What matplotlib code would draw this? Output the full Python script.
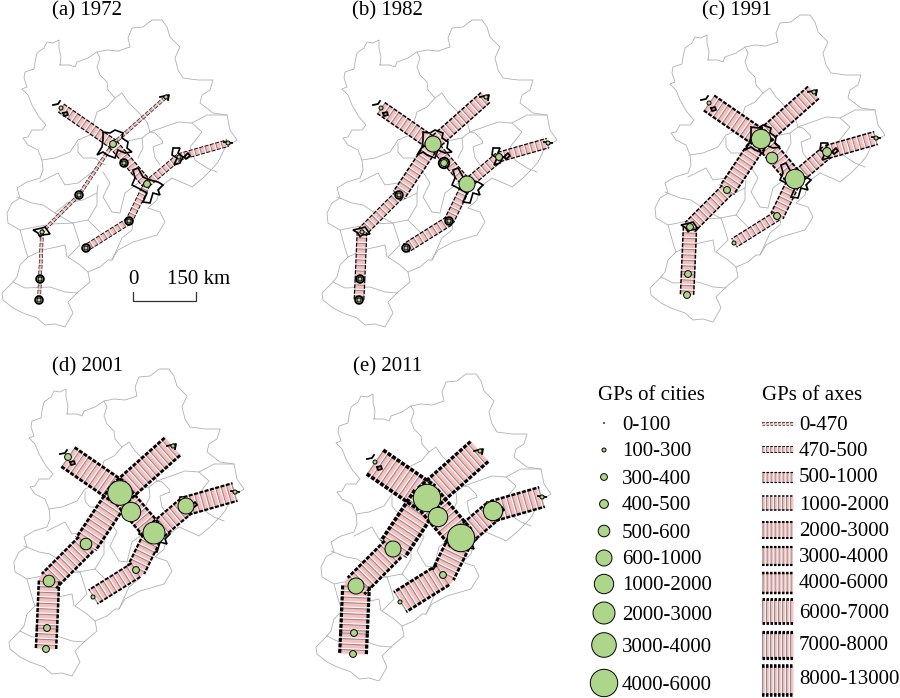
import numpy as np
import matplotlib.pyplot as plt
from matplotlib.patches import Circle, Polygon

plt.rcParams['font.family'] = ['Liberation Serif', 'DejaVu Serif']
plt.rcParams['lines.scale_dashes'] = False

# map outlines, in pixels of panel (a)
outer = np.array([(60, 65), (70, 65), (75, 67), (77, 62), (88, 58), (97, 52), (107, 50), (118, 51), (130, 47),
                  (128, 38), (132, 28), (143, 27), (152, 20), (162, 20), (167, 27), (170, 37), (180, 47), (175, 58),
                  (178, 70), (183, 78), (198, 80), (213, 80), (210, 90), (202, 95), (200, 103), (213, 113),
                  (227, 115), (230, 130), (237, 140), (225, 148), (218, 162), (213, 168), (203, 178), (192, 187),
                  (188, 185), (172, 178), (160, 187), (157, 200), (148, 208), (160, 212), (165, 222), (157, 235),
                  (133, 242), (118, 250), (112, 260), (108, 260), (100, 267), (88, 272), (90, 282), (78, 292),
                  (68, 302), (73, 313), (65, 327), (55, 324), (45, 325), (37, 318), (23, 313), (13, 308), (3, 300),
                  (2, 293), (12, 283), (17, 277), (20, 265), (28, 257), (25, 248), (20, 230), (8, 223), (7, 213),
                  (12, 203), (20, 198), (17, 188), (27, 182), (40, 178), (43, 170), (42, 160), (38, 150), (28, 145),
                  (23, 138), (28, 137), (32, 130), (42, 130), (46, 125), (39, 117), (32, 105), (28, 95), (22, 89),
                  (27, 87), (24, 78), (25, 72), (34, 69), (35, 62), (37, 53), (44, 48), (47, 42), (53, 43), (59, 40),
                  (59, 48), (61, 57), (60, 65)])
inner = [
    [(97, 52), (100, 58), (97, 67), (100, 75), (107, 82), (108, 90), (115, 98), (122, 93), (128, 102), (138, 112),
     (147, 122), (150, 132), (155, 133), (162, 140), (163, 143), (153, 147), (155, 158), (160, 165)],
    [(150, 132), (178, 122), (192, 123), (207, 115), (227, 115)],
    [(192, 123), (202, 132), (190, 147), (195, 160), (207, 168), (217, 172)],
    [(127, 141), (142, 138), (143, 148), (138, 158)],
    [(142, 138), (150, 132)],
    [(42, 160), (55, 158), (70, 152), (78, 140), (90, 135), (97, 112), (107, 107), (115, 98)],
    [(78, 143), (78, 152), (83, 158), (95, 158), (100, 162), (105, 165)],
    [(17, 197), (32, 203), (43, 205), (55, 213), (67, 203), (83, 200), (97, 193), (98, 185)],
    [(40, 182), (58, 173), (65, 185), (78, 183), (95, 170)],
    [(55, 213), (72, 223), (88, 220), (100, 232)],
    [(73, 223), (77, 235), (80, 245), (68, 257), (80, 265), (88, 272)],
    [(20, 230), (35, 227), (52, 224), (73, 223)],
    [(28, 257), (43, 250), (65, 245), (67, 257)],
    [(13, 282), (25, 288), (50, 287), (65, 292), (78, 293)],
    [(103, 172), (110, 183), (103, 197), (112, 212), (120, 213), (125, 193), (133, 187), (138, 183)],
    [(112, 260), (122, 238), (132, 230), (133, 222)],
    [(88, 220), (97, 205), (97, 193)],
]

# cities
city_names = ['Beijing', 'Tianjin', 'Langfang', 'Zhangjiakou', 'Chengde', 'Baoding', 'Shijiazhuang',
              'Xingtai', 'Handan', 'Tangshan', 'Qinhuangdao', 'Cangzhou', 'Hengshui']
city_x = [113, 147, 124, 61, 166, 79, 42, 40, 39, 179, 228, 129, 86]
city_y = [144, 184, 163, 108, 97, 195, 232, 279, 300, 157, 143, 221, 248]

# axes between cities, as index pairs into city_names
axis_from = [3, 0, 0, 5, 6, 7, 0, 1, 9, 1, 11]
axis_to = [0, 4, 5, 6, 7, 8, 1, 9, 10, 11, 12]

# urban outlines drawn around the cities
urban_outlines = [
    [(103, 132), (110, 133), (115, 130), (123, 133), (122, 138), (128, 142), (127, 148), (132, 152), (125, 153),
     (118, 150), (115, 158), (107, 155), (103, 152), (97, 155), (102, 147), (103, 140)],
    [(133, 170), (138, 168), (143, 177), (150, 180), (158, 182), (163, 185), (158, 190), (160, 195), (153, 193),
     (150, 203), (143, 202), (147, 193), (138, 188), (132, 185), (135, 178)],
    [(33, 230), (42, 228), (45, 227), (50, 234), (42, 235), (40, 237), (38, 233)],
    [(173, 148), (180, 148), (178, 153), (183, 157), (180, 163), (174, 165), (177, 158), (172, 155)],
]
small_marks = [
    [(53, 105), (58, 104), (60, 101)],
    [(63, 113), (67, 112), (68, 115), (64, 116), (63, 113)],
    [(160, 97), (169, 95), (168, 100)],
    [(224, 142), (232, 143)],
    [(184, 157), (188, 153), (190, 156), (186, 159), (184, 157)],
]
ring_cities = [2, 5, 7, 8, 11, 12]

years = ['(a) 1972', '(b) 1982', '(c) 1991', '(d) 2001', '(e) 2011']

# class index of every city (order of city_names) and axis in each year
city_class = [
    [2, 2, 1, 1, 1, 1, 1, 1, 1, 1, 1, 1, 1],
    [5, 5, 2, 1, 1, 1, 1, 1, 1, 2, 1, 1, 1],
    [6, 6, 4, 1, 1, 2, 2, 2, 2, 3, 1, 2, 1],
    [8, 7, 6, 2, 1, 4, 4, 2, 2, 5, 1, 2, 1],
    [9, 9, 6, 1, 1, 5, 5, 2, 2, 6, 1, 2, 1],
]
axis_class = [
    [2, 0, 0, 0, 0, 0, 2, 1, 1, 1, 1],
    [3, 3, 3, 2, 2, 2, 2, 2, 2, 2, 2],
    [5, 4, 4, 3, 3, 3, 4, 3, 3, 3, 2],
    [7, 7, 7, 6, 6, 6, 6, 5, 5, 5, 4],
    [9, 8, 9, 7, 8, 8, 8, 6, 6, 7, 7],
]

city_labels = ['0-100', '100-300', '300-400', '400-500', '500-600', '600-1000', '1000-2000', '2000-3000',
               '3000-4000', '4000-6000']
axis_labels = ['0-470', '470-500', '500-1000', '1000-2000', '2000-3000', '3000-4000', '4000-6000', '6000-7000',
               '7000-8000', '8000-13000']

# drawing scales for the classes, pixels
city_radius = [0.4, 2, 3.4, 4.4, 5.8, 8, 9.7, 11, 12.3, 13.7]
axis_width = [3, 6.7, 9.7, 13.3, 16.3, 18.3, 20.3, 23.3, 26.7, 29]
edge_width = [0.6, 0.9, 1.2, 1.5, 1.9, 2.2, 2.5, 2.8, 3.2, 3.6]
panel_dx = [0, 320, 648, 7, 314]
panel_dy = [0, 0, -5, 349, 354]
title_x = [52, 352, 702, 52, 353]
title_y = [11, 11, 11, 367, 367]

GREEN = '#AED68B'
PINK = '#F9BFBF'
GREY = '#b0b0b0'
PX = 0.72

fig = plt.figure(figsize=(9, 6.98), dpi=100)
ax = fig.add_axes([0, 0, 1, 1])
ax.set_xlim(0, 900)
ax.set_ylim(698, 0)
ax.axis('off')


def draw_axis(x0, y0, x1, y1, cls, spacing=5.5, z=3):
    w = axis_width[cls]
    ax.plot([x0, x1], [y0, y1], color=PINK, lw=w * PX, solid_capstyle='butt', zorder=z)
    ax.plot([x0, x1], [y0, y1], color='#8e8e8e', lw=(w - 1) * PX, zorder=z,
            linestyle=(0, (1.1 * PX, (spacing - 1.1) * PX)), dash_capstyle='butt')
    ax.plot([x0, x1], [y0, y1], color='white', lw=(w - 1) * PX, zorder=z,
            linestyle=(1.1 * PX, (0.9 * PX, (spacing - 0.9) * PX)), dash_capstyle='butt')
    # dashed edges on both sides
    d = np.array([x1 - x0, y1 - y0], dtype=float)
    n = np.array([-d[1], d[0]]) / np.hypot(d[0], d[1]) * w / 2
    for s in (-1, 1):
        ax.plot([x0 + s * n[0], x1 + s * n[0]], [y0 + s * n[1], y1 + s * n[1]], color='black',
                lw=edge_width[cls] * PX, zorder=z + 0.1,
                linestyle=(0, ((spacing - 1.5) * PX, 1.5 * PX)), dash_capstyle='butt')


for i in range(5):
    dx = panel_dx[i]
    dy = panel_dy[i]
    ax.plot(outer[:, 0] + dx, outer[:, 1] + dy, color=GREY, lw=0.6, zorder=1)
    for line in inner:
        pts = np.array(line)
        ax.plot(pts[:, 0] + dx, pts[:, 1] + dy, color=GREY, lw=0.6, zorder=1)

    # urban outlines sit on top in the early years, the wide axes hide them later
    urban_z = 5 if i < 3 else 2
    for outline in urban_outlines:
        pts = np.array(outline) + [dx, dy]
        ax.add_patch(Polygon(pts, closed=True, fill=False, ec='black', lw=1.2, zorder=urban_z))
    for mark in small_marks:
        pts = np.array(mark) + [dx, dy]
        ax.plot(pts[:, 0], pts[:, 1], color='black', lw=1.3, zorder=5)

    for a, b, cls in zip(axis_from, axis_to, axis_class[i]):
        draw_axis(city_x[a] + dx, city_y[a] + dy, city_x[b] + dx, city_y[b] + dy, cls)
    # fill the wedge where two axes meet at a bend
    for c, cls in zip([5, 6, 9, 11], [axis_class[i][3], axis_class[i][3], axis_class[i][8], axis_class[i][10]]):
        ax.add_patch(Circle((city_x[c] + dx, city_y[c] + dy), axis_width[cls] / 2, fc=PINK, ec='none', zorder=2.5))

    if i < 2:
        for c in ring_cities:
            r = city_radius[city_class[i][c]] + 1.8
            ax.add_patch(Circle((city_x[c] + dx, city_y[c] + dy), r, fc='none', ec='black', lw=1.4, zorder=5))
    for c, cls in enumerate(city_class[i]):
        ax.add_patch(Circle((city_x[c] + dx, city_y[c] + dy), city_radius[cls], fc=GREEN, ec='black',
                            lw=0.7, zorder=6))

    ax.text(title_x[i], title_y[i], years[i], fontsize=15, ha='left', va='center')

# scale bar in panel (a)
ax.plot([133, 133, 196, 196], [292, 301, 301, 292], color='#333333', lw=0.9)
ax.text(133, 279, '0', fontsize=15, ha='center', va='center')
ax.text(167, 279, '150 km', fontsize=15, ha='left', va='center')

# legends
ax.text(598, 396, 'GPs of cities', fontsize=15, ha='left', va='center')
ax.text(762, 396, 'GPs of axes', fontsize=15, ha='left', va='center')
city_leg_y = [423, 450, 477, 504, 531, 558, 584, 613, 645, 683]
axis_leg_y = [423, 449, 477, 503, 530, 556, 583, 611, 645, 680]
city_text_y = [425, 452, 479, 506, 533, 560, 586, 615, 647, 685]
axis_text_y = [425, 452, 478, 505, 531, 557, 583, 614, 646, 680]
for k in range(10):
    ax.add_patch(Circle((604, city_leg_y[k]), city_radius[k], fc=GREEN, ec='black', lw=0.7, zorder=6))
    ax.text(622, city_text_y[k], city_labels[k], fontsize=15, ha='left', va='center')
    draw_axis(762, axis_leg_y[k], 793, axis_leg_y[k], k, spacing=4)
    ax.text(799, axis_text_y[k], axis_labels[k], fontsize=15, ha='left', va='center')

plt.savefig('out.png', dpi=100)
